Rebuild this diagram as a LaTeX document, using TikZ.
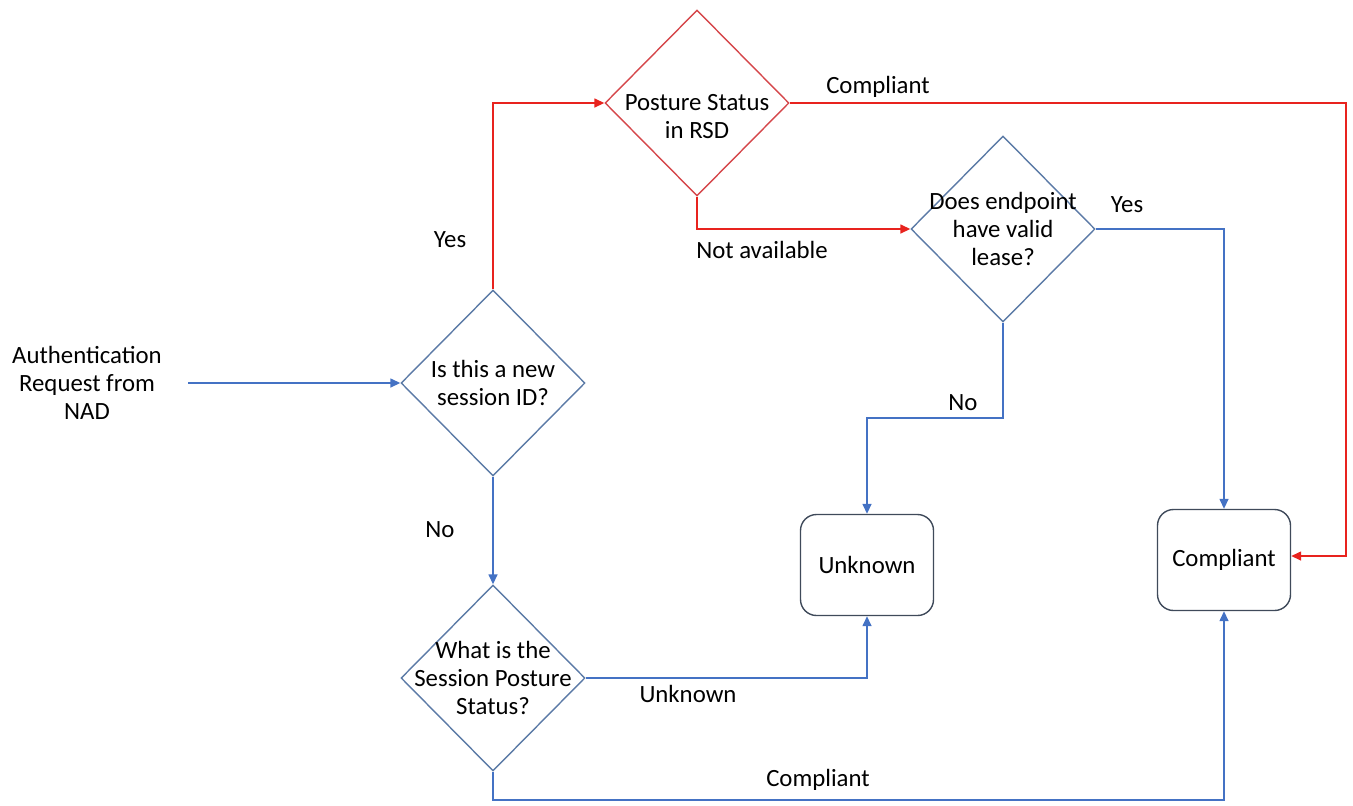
\documentclass[tikz,border=0pt]{standalone}
\usepackage{fontspec}
\setmainfont{Carlito}
\usetikzlibrary{shapes.geometric,arrows.meta}
\definecolor{flowblue}{HTML}{4472C4}
\definecolor{flowred}{HTML}{E8231E}
\definecolor{diaedge}{HTML}{5B7AA6}
\definecolor{rededge}{HTML}{D5464A}
\definecolor{boxedge}{HTML}{3F4A5A}
\begin{document}
\begin{tikzpicture}[x=0.5pt,y=-0.5pt,
  every node/.style={font=\fontsize{12.4}{14}\selectfont, text=black},
  decision/.style={draw=diaedge, line width=0.7pt, shape=diamond, inner sep=0pt,
    minimum width=92pt, minimum height=93pt},
  rsddecision/.style={decision, draw=rededge},
  qtext/.style={align=center, inner sep=0pt},
  endbox/.style={draw=boxedge, line width=0.7pt, rounded corners=8pt,
    minimum width=66.5pt, minimum height=50.5pt, inner sep=0pt},
  bflow/.style={draw=flowblue, line width=0.75pt, -{Triangle[length=5pt,width=4.5pt]}},
  rflow/.style={draw=flowred, line width=0.75pt, -{Triangle[length=5pt,width=4.5pt]}},
  lbl/.style={inner sep=0pt}]
\useasboundingbox (0,0) rectangle (1353,805);

% entry text and decisions
\node[qtext] (auth) at (87,383) {Authentication\\Request from\\NAD};
\coordinate (authout) at (188,383);

\node[decision] (newsess) at (493,383) {};
\node[qtext] at (newsess) {Is this a new\\session ID?};

\node[rsddecision] (rsd) at (697,103) {};
\node[qtext] at ([yshift=-7pt]rsd.center) {Posture Status\\in RSD};

\node[decision] (lease) at (1003,229) {};
\node[qtext] at (lease) {Does endpoint\\have valid\\lease?};

\node[decision] (sessposture) at (493,678) {};
\node[qtext] at (sessposture) {What is the\\Session Posture\\Status?};

% outcomes
\node[endbox] (unknown) at (867,565) {Unknown};
\node[endbox] (compliant) at (1224,560) {Compliant};

% connectors
\draw[bflow] (authout) -- (newsess.west);
\draw[rflow] (newsess.north) |- (rsd.west);
\draw[rflow] (rsd.east) -- (1346,103) |- ([yshift=2pt]compliant.east);
\draw[rflow] (rsd.south) |- (lease.west);
\draw[bflow] (lease.east) -| (compliant.north);
\draw[bflow] (lease.south) -- (1003,418) -| (unknown.north);
\draw[bflow] (newsess.south) -- (sessposture.north);
\draw[bflow] (sessposture.east) -| (unknown.south);
\draw[bflow] (sessposture.south) -- (493,800) -| (compliant.south);

% branch labels
\node[lbl] (lyes1) at (450,240) {Yes};
\node[lbl] (lcomp1) at (878,87) {Compliant};
\node[lbl] (lna) at (762,250) {Not available};
\node[lbl] (lyes2) at (1127,205) {Yes};
\node[lbl] (lno2) at (963,403) {No};
\node[lbl] (lno1) at (440,530) {No};
\node[lbl] (lunk) at (688,694) {Unknown};
\node[lbl] (lcomp2) at (818,780) {Compliant};
\end{tikzpicture}
\end{document}
